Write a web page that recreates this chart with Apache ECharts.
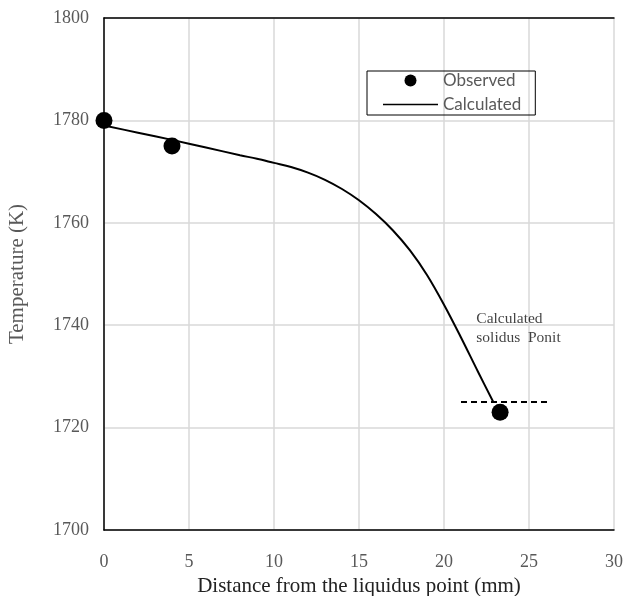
<!DOCTYPE html>
<html>
<head>
<meta charset="utf-8">
<script src="https://cdn.jsdelivr.net/npm/echarts@6/dist/echarts.min.js"></script>
<style>
  html, body { margin: 0; padding: 0; background: #fff; }
  #chart { width: 625px; height: 596px; }
</style>
</head>
<body>
<div id="chart"></div>
<script>
// Measured temperatures along the sample (distance in mm, temperature in K)
const observedX = [0, 4, 23.3];
const observedT = [1780, 1775, 1723];

// Calculated temperature profile
const calcX = [0, 2, 4, 6, 8, 9, 10, 11, 12, 13, 14, 15, 16, 17, 18, 19, 20, 21, 22, 22.9];
const calcT = [1779, 1777.6, 1776.2, 1774.7, 1773.2, 1772.5, 1771.7, 1770.9, 1769.8, 1768.4, 1766.6, 1764.4, 1761.7, 1758.5, 1754.6, 1749.8, 1744.0, 1737.6, 1730.9, 1725];

// Calculated solidus level, drawn as a dashed reference segment
const solidusX = [21, 26.1];
const solidusT = [1725, 1725];

// Annotation anchor (data coordinates)
const noteX = [21.9];
const noteT = [1739.4];

const xTicks = { min: 0, max: 30, interval: 5 };
const yTicks = { min: 1700, max: 1800, interval: 20 };

const zip = (xs, ys) => xs.map((x, i) => [x, ys[i]]);

const serif = '"Liberation Serif", "Times New Roman", serif';
const grey = '#595959';

// Thin horizontal bar inside a 55x12 box, used as the legend glyph for the line
const lineIcon = 'path://M0,0 M55,12 M0,5.2 L55,5.2 L55,6.8 L0,6.8 Z';

const chart = echarts.init(document.getElementById('chart'), null, { renderer: 'canvas' });

chart.setOption({
  animation: false,
  backgroundColor: '#fff',
  grid: { left: 104, right: 11, top: 18, bottom: 66, containLabel: false, outerBoundsMode: 'none' },
  legend: {
    left: 367,
    top: 71,
    orient: 'vertical',
    align: 'left',
    data: [
      { name: 'Observed', icon: 'circle', itemStyle: { color: '#000', opacity: 1 } },
      { name: 'Calculated', icon: lineIcon, itemStyle: { color: '#000', borderWidth: 0 }, lineStyle: { width: 0 } }
    ],
    itemWidth: 55,
    itemHeight: 12,
    itemGap: 7,
    padding: [1, 14, 2, 16],
    borderColor: '#000',
    borderWidth: 1,
    textStyle: { fontFamily: 'Lato, "Open Sans", sans-serif', fontSize: 17, color: grey, lineHeight: 16 }
  },
  xAxis: [{
    type: 'value',
    min: xTicks.min, max: xTicks.max, interval: xTicks.interval,
    name: 'Distance from the liquidus point (mm)',
    nameLocation: 'middle',
    nameGap: 43,
    nameTextStyle: { fontFamily: serif, fontSize: 21, color: '#222' },
    axisLine: { show: true, lineStyle: { color: '#000', width: 1.5 } },
    axisTick: { show: false },
    axisLabel: { fontFamily: serif, fontSize: 18, color: grey, margin: 23 },
    splitLine: { show: true, lineStyle: { color: '#d9d9d9', width: 1.5 } }
  }, {
    type: 'value',
    position: 'top',
    min: xTicks.min, max: xTicks.max, interval: xTicks.interval,
    axisLine: { show: true, lineStyle: { color: '#000', width: 1.5 } },
    axisTick: { show: false },
    axisLabel: { show: false },
    splitLine: { show: false }
  }],
  yAxis: [{
    type: 'value',
    min: yTicks.min, max: yTicks.max, interval: yTicks.interval,
    name: 'Temperature (K)',
    nameLocation: 'middle',
    nameGap: 76,
    nameTextStyle: { fontFamily: serif, fontSize: 21, color: grey },
    axisLine: { show: true, lineStyle: { color: '#000', width: 1.5 } },
    axisTick: { show: false },
    axisLabel: { fontFamily: serif, fontSize: 18, color: grey, margin: 15, formatter: v => String(v) },
    splitLine: { show: true, lineStyle: { color: '#d9d9d9', width: 1.5 } }
  }],
  series: [{
    name: 'Observed',
    type: 'scatter',
    data: zip(observedX, observedT),
    symbol: 'circle',
    symbolSize: 17,
    itemStyle: { color: '#000', opacity: 1 },
    z: 5
  }, {
    name: 'Calculated',
    type: 'line',
    data: zip(calcX, calcT),
    smooth: 0.35,
    showSymbol: false,
    symbol: 'none',
    lineStyle: { color: '#000', width: 2 },
    itemStyle: { color: '#000' },
    z: 4
  }, {
    name: 'solidus',
    type: 'line',
    data: zip(solidusX, solidusT),
    showSymbol: false,
    symbol: 'none',
    lineStyle: { color: '#000', width: 2, type: [6, 4] },
    z: 3
  }, {
    name: 'note',
    type: 'scatter',
    data: zip(noteX, noteT),
    symbolSize: 0,
    silent: true,
    label: {
      show: true,
      position: 'right',
      distance: 0,
      align: 'left',
      verticalAlign: 'middle',
      formatter: 'Calculated\nsolidus  Ponit',
      fontFamily: serif,
      fontSize: 15.5,
      lineHeight: 19,
      color: '#111'
    }
  }]
});
</script>
</body>
</html>
